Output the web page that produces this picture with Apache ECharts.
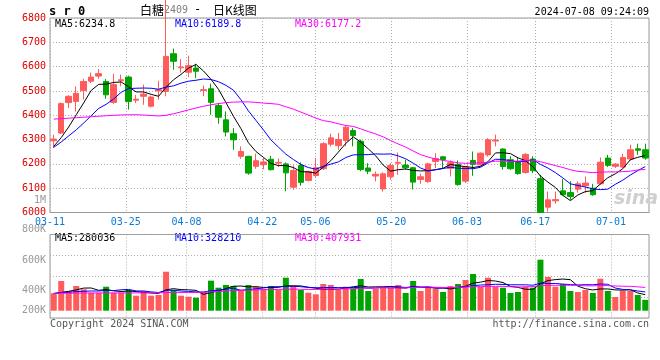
<!DOCTYPE html>
<html>
<head>
<meta charset="utf-8">
<script src="https://cdn.jsdelivr.net/npm/echarts@6/dist/echarts.min.js"></script>
<style>
html,body{margin:0;padding:0;background:#fff;}
#chart{width:660px;height:360px;}
</style>
</head>
<body>
<div id="chart"></div>
<script>
// ---------- data ----------
const dates = [
'03-11','03-12','03-13','03-14','03-15','03-18','03-19','03-20','03-21','03-22',
'03-25','03-26','03-27','03-28','03-29','04-01','04-02','04-03','04-08','04-09',
'04-10','04-11','04-12','04-15','04-16','04-17','04-18','04-19','04-22','04-23',
'04-24','04-25','04-26','04-29','04-30','05-06','05-07','05-08','05-09','05-10',
'05-13','05-14','05-15','05-16','05-17','05-20','05-21','05-22','05-23','05-24',
'05-27','05-28','05-29','05-30','05-31','06-03','06-04','06-05','06-06','06-07',
'06-11','06-12','06-13','06-14','06-17','06-18','06-19','06-20','06-21','06-24',
'06-25','06-26','06-27','06-28','07-01','07-02','07-03','07-04','07-05','07-08'];
const xLabels = ['03-11','03-25','04-08','04-22','05-06','05-20','06-03','06-17','07-01'];

const opens = [
6295,6327,6452,6457,6501,6540,6561,6539,6453,6542,
6557,6462,6478,6437,6500,6498,6653,6595,6577,6594,
6502,6509,6440,6381,6324,6231,6231,6190,6197,6219,
6203,6200,6104,6193,6132,6152,6180,6281,6275,6296,
6337,6293,6183,6150,6097,6147,6203,6195,6184,6136,
6127,6210,6229,6182,6198,6129,6214,6196,6237,6294,
6261,6217,6210,6165,6220,6139,6022,6048,6089,6082,
6096,6110,6100,6118,6224,6190,6187,6220,6262,6258];
const closes = [
6302,6448,6478,6490,6539,6557,6571,6484,6526,6546,
6457,6466,6487,6475,6505,6642,6622,6598,6604,6581,
6505,6453,6392,6331,6299,6251,6162,6213,6208,6176,
6206,6163,6173,6124,6169,6184,6283,6307,6300,6351,
6317,6177,6170,6157,6159,6193,6206,6184,6125,6147,
6200,6222,6218,6205,6115,6187,6198,6244,6299,6298,
6189,6180,6160,6239,6172,6000,6052,6053,6073,6066,
6118,6121,6073,6207,6194,6199,6226,6258,6256,6224];
const lows = [
6265,6322,6430,6415,6464,6533,6550,6468,6447,6519,
6423,6450,6443,6432,6464,6478,6587,6576,6557,6553,
6478,6402,6365,6313,6258,6221,6155,6180,6178,6173,
6187,6087,6093,6110,6128,6145,6175,6272,6258,6272,
6272,6170,6158,6128,6086,6135,6155,6176,6095,6118,
6122,6183,6183,6148,6110,6121,6151,6192,6230,6272,
6176,6175,6155,6160,6162,5998,6004,6036,6069,6052,
6082,6080,6069,6114,6187,6183,6183,6214,6237,6217];
const highs = [
6320,6452,6482,6519,6550,6576,6590,6549,6571,6567,
6563,6484,6526,6480,6542,6875,6674,6631,6645,6612,
6522,6530,6450,6416,6347,6272,6233,6242,6224,6233,
6222,6206,6194,6206,6172,6224,6289,6324,6327,6357,
6347,6300,6203,6169,6165,6203,6247,6217,6186,6160,
6205,6244,6233,6214,6214,6190,6251,6247,6306,6320,
6265,6231,6224,6244,6231,6155,6086,6086,6137,6128,
6128,6148,6118,6226,6237,6203,6241,6279,6283,6283];

const ma5 = [
6272,6308,6352,6402,6451,6502,6527,6528,6535,6537,
6517,6496,6496,6486,6478,6515,6546,6568,6594,6609,
6582,6548,6507,6452,6396,6345,6287,6251,6227,6202,
6193,6193,6185,6168,6167,6162,6186,6213,6248,6284,
6311,6290,6262,6233,6195,6170,6176,6179,6173,6171,
6172,6176,6182,6198,6192,6189,6185,6190,6209,6245,
6246,6242,6225,6213,6188,6150,6125,6103,6070,6049,
6072,6086,6090,6117,6143,6159,6180,6217,6227,6234];
const ma10 = [
6268,6290,6315,6340,6368,6398,6428,6445,6467,6494,
6510,6511,6512,6511,6507,6516,6521,6532,6540,6544,
6549,6547,6538,6523,6503,6464,6418,6379,6340,6299,
6269,6240,6218,6198,6185,6178,6190,6199,6208,6226,
6237,6238,6238,6241,6240,6241,6233,6221,6203,6183,
6171,6176,6181,6186,6182,6181,6180,6186,6204,6219,
6218,6213,6208,6211,6217,6198,6183,6164,6142,6118,
6111,6105,6097,6094,6096,6116,6133,6154,6172,6189];
const ma30 = [
6384,6386,6388,6390,6392,6394,6396,6398,6400,6401,
6402,6402,6401,6399,6397,6400,6406,6414,6422,6430,
6437,6443,6448,6452,6454,6455,6455,6453,6450,6448,
6445,6435,6425,6413,6401,6388,6378,6373,6365,6358,
6354,6344,6333,6323,6311,6296,6282,6269,6253,6238,
6228,6220,6214,6210,6204,6202,6203,6204,6207,6211,
6211,6211,6211,6215,6215,6209,6201,6193,6185,6176,
6169,6167,6164,6166,6167,6167,6168,6170,6175,6177];

const volumes = [
305000,520000,345000,433000,375000,315000,315000,420000,315000,315000,
363000,263000,345000,263000,275000,683000,363000,263000,245000,228000,
333000,526000,403000,450000,433000,350000,450000,420000,380000,433000,
363000,578000,433000,363000,315000,287000,468000,450000,363000,420000,
392000,555000,345000,380000,420000,420000,450000,310000,520000,345000,
420000,380000,328000,433000,468000,538000,643000,420000,578000,420000,
403000,310000,328000,420000,403000,894000,590000,420000,468000,345000,
328000,363000,310000,560000,345000,240000,350000,345000,275000,190000];
const volMa5 = [
300000,320000,340000,365000,396000,398000,357000,372000,348000,336000,
346000,335000,320000,310000,302000,366000,386000,369000,366000,356000,
286000,319000,347000,388000,429000,432000,417000,421000,407000,407000,
409000,435000,437000,434000,410000,395000,373000,377000,377000,398000,
419000,436000,415000,418000,418000,424000,403000,396000,424000,409000,
409000,395000,399000,381000,406000,429000,482000,500000,529000,520000,
493000,426000,408000,376000,373000,471000,527000,545000,555000,543000,
430000,385000,363000,381000,381000,364000,361000,368000,311000,280000];
const volMa10 = [
300000,318000,322000,335000,340000,345000,345000,355000,352000,366000,
372000,346000,346000,329000,319000,356000,361000,345000,338000,329000,
326000,352000,358000,377000,393000,359000,368000,384000,397000,418000,
421000,426000,429000,420000,409000,402000,404000,407000,405000,404000,
407000,405000,396000,398000,408000,421000,420000,406000,421000,414000,
417000,399000,397000,403000,407000,419000,439000,450000,455000,463000,
461000,454000,454000,453000,446000,482000,477000,477000,466000,458000,
451000,456000,454000,468000,462000,397000,373000,365000,346000,328000];
const volMa30 = [
305000,306000,307000,308000,309000,310000,310000,311000,311000,312000,
312000,312000,313000,313000,314000,318000,320000,320000,320000,320000,
322000,330000,338000,345000,352000,356000,360000,364000,368000,371000,
373000,375000,378000,375000,373000,372000,378000,379000,380000,384000,
385000,394000,394000,398000,403000,394000,397000,399000,408000,412000,
415000,410000,407000,407000,408000,414000,421000,421000,427000,427000,
428000,419000,416000,418000,421000,441000,445000,444000,447000,445000,
443000,436000,435000,441000,439000,433000,429000,427000,418000,408000];

const maNames = ['MA5', 'MA10', 'MA30'];
const priceMaLast = ['6234.8', '6189.8', '6177.2'];
const volMaLast = ['280036', '328210', '407931'];
const volTickLabels = ['1M', '800K', '600K', '400K', '200K'];
const titleParts = ['白糖', '2409', '-', '日K线图'];
const codeText = 's r 0';
const stampText = '2024-07-08 09:24:09';
const footLeft = 'Copyright 2024 SINA.COM';
const footRight = 'http://finance.sina.com.cn';

// ---------- layout / style ----------
const UP = '#ff5b5b', DOWN = '#00a300';
const MA_COLORS = ['#000000', '#0000ff', '#ff00ff'];
const MONO = '"DejaVu Sans Mono", "Liberation Mono", monospace';
const CJK = '"Noto Sans CJK SC", sans-serif';
const GRIDLINE = {color: '#b0b0b0', type: [1, 2], width: 1};
const volTickY = [200, 229, 260, 290.5, 310.5];
const legendX = [55, 175, 295];

const isLabel = (idx, val) => xLabels.indexOf(val === undefined ? dates[idx] : val) >= 0;

function txt(text, x, y, color, font, align) {
  return {
    type: 'text', x: x, y: y, silent: true,
    style: {text: text, fill: color, font: font,
            align: align || 'left', textAlign: align || 'left',
            verticalAlign: 'middle', textVerticalAlign: 'middle'}
  };
}

const graphics = [];
graphics.push(txt(codeText, 49, 12, '#000', 'bold 12px ' + MONO));
graphics.push(txt(titleParts[0], 140, 10, '#000', '12px ' + CJK));
graphics.push(txt(titleParts[1], 164, 10, '#808080', '10px ' + MONO));
graphics.push(txt(titleParts[2], 194, 10, '#000', '12px ' + MONO));
graphics.push(txt(titleParts[3], 213, 10, '#000', '12px ' + CJK));
graphics.push(txt(stampText, 649, 12, '#000', '10px ' + MONO, 'right'));
maNames.forEach((n, k) => {
  graphics.push(txt(n + ':' + priceMaLast[k], legendX[k], 24, MA_COLORS[k], '10px ' + MONO));
  graphics.push(txt(n + ':' + volMaLast[k], legendX[k], 238.5, MA_COLORS[k], '10px ' + MONO));
});
volTickLabels.forEach((t, k) => {
  graphics.push(txt(t, 46, volTickY[k], '#999', '10px ' + MONO, 'right'));
});
graphics.push(txt(footLeft, 50, 324, '#555', '10px ' + MONO));
graphics.push(txt(footRight, 649, 324, '#555', '10px ' + MONO, 'right'));
graphics.push(txt('sina', 614, 199, '#cfcfcf', 'italic bold 19px "DejaVu Sans", sans-serif'));

const candleData = dates.map((d, i) => [opens[i], closes[i], lows[i], highs[i]]);
const volData = volumes.map((v, i) => ({
  value: v, itemStyle: {color: closes[i] >= opens[i] ? UP : DOWN}
}));

function maLine(name, data, color, xi, yi) {
  return {
    name: name, type: 'line', data: data, xAxisIndex: xi, yAxisIndex: yi,
    showSymbol: false, symbol: 'none', smooth: false, silent: true, z: 5,
    lineStyle: {color: color, width: 1}
  };
}

const option = {
  animation: false,
  backgroundColor: '#fff',
  textStyle: {fontFamily: MONO},
  grid: [
    {left: 50, right: 11, top: 18, height: 194.5, show: true, borderColor: '#999', borderWidth: 1},
    {left: 50, right: 11, top: 234.5, height: 83.5, show: true, borderColor: '#999', borderWidth: 1}
  ],
  xAxis: [
    {type: 'category', gridIndex: 0, position: 'bottom', data: dates, boundaryGap: true, show: false},
    {type: 'category', gridIndex: 0, position: 'bottom', data: dates, boundaryGap: false,
     axisLine: {show: true, onZero: false, lineStyle: {color: '#999'}}, axisTick: {show: false},
     axisLabel: {interval: isLabel, color: '#0a7ad6', fontSize: 10, fontFamily: MONO, margin: 5},
     splitLine: {show: true, interval: isLabel, lineStyle: GRIDLINE}},
    {type: 'category', gridIndex: 1, position: 'bottom', data: dates, boundaryGap: true, show: false},
    {type: 'category', gridIndex: 1, position: 'bottom', data: dates, boundaryGap: false,
     axisLine: {show: false}, axisTick: {show: false}, axisLabel: {show: false},
     splitLine: {show: true, interval: isLabel, lineStyle: GRIDLINE}}
  ],
  yAxis: [
    {type: 'value', gridIndex: 0, position: 'left', min: 6000, max: 6800, interval: 100,
     axisLine: {show: false}, axisTick: {show: false},
     axisLabel: {color: '#e00000', fontSize: 10, fontFamily: MONO, margin: 4,
                 formatter: v => String(v)},
     splitLine: {show: true, lineStyle: GRIDLINE}},
    {type: 'value', gridIndex: 1, position: 'left', min: -128000, max: 1335000, show: false},
    {type: 'value', gridIndex: 1, position: 'left', inverse: true, min: 0, max: 4, interval: 1,
     axisLine: {show: false}, axisTick: {show: false}, axisLabel: {show: false},
     splitLine: {show: true, lineStyle: GRIDLINE}}
  ],
  series: [
    {name: 'K', type: 'candlestick', data: candleData, xAxisIndex: 0, yAxisIndex: 0,
     barWidth: 6, clip: false, silent: true,
     itemStyle: {color: UP, color0: DOWN, borderColor: UP, borderColor0: DOWN, borderWidth: 1}},
    maLine('MA5', ma5, MA_COLORS[0], 0, 0),
    maLine('MA10', ma10, MA_COLORS[1], 0, 0),
    maLine('MA30', ma30, MA_COLORS[2], 0, 0),
    {name: 'VOL', type: 'bar', data: volData, xAxisIndex: 2, yAxisIndex: 1, barWidth: 6, silent: true},
    maLine('VMA5', volMa5, MA_COLORS[0], 2, 1),
    maLine('VMA10', volMa10, MA_COLORS[1], 2, 1),
    maLine('VMA30', volMa30, MA_COLORS[2], 2, 1)
  ],
  graphic: {elements: graphics}
};

const chart = echarts.init(document.getElementById('chart'));
chart.setOption(option);
</script>
</body>
</html>
